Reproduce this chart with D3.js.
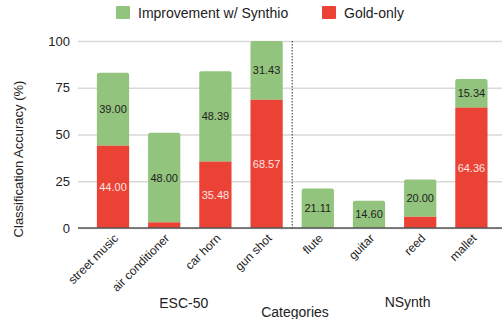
<!DOCTYPE html>
<html>
<head>
<meta charset="utf-8">
<style>
  body { margin: 0; background: #fff; }
  svg { font-family: Arial, "Liberation Sans", sans-serif; }
  .y .domain { display: none; }
  .y .tick line { stroke: #d9d9d9; stroke-width: 1.5px; }
  .y .tick text { font-size: 13px; fill: #222; }
  .x .domain, .x .tick line { display: none; }
  .x .tick text { font-size: 12px; fill: #222; }
</style>
</head>
<body>
<svg width="502" height="319"></svg>
<script src="https://d3js.org/d3.v7.min.js"></script>
<script>
  let categories = ["street music", "air conditioner", "car horn", "gun shot", "flute", "guitar", "reed", "mallet"];
  let goldOnly = [44.00, 3, 35.48, 68.57, 0, 0, 6, 64.36];
  let improvement = [39.00, 48.00, 48.39, 31.43, 21.11, 14.60, 20.00, 15.34];
  let goldLabels = ["44.00", "", "35.48", "68.57", "", "", "", "64.36"];
  let impLabels = ["39.00", "48.00", "48.39", "31.43", "21.11", "14.60", "20.00", "15.34"];
  let yTicks = [0, 25, 50, 75, 100];

  let green = "#93c47d", red = "#ea4335";
  let svg = d3.select("svg");

  let x = d3.scaleBand()
    .domain(categories)
    .range([87.4, 497])
    .paddingInner(0.37)
    .paddingOuter(0.185);

  let y = d3.scaleLinear()
    .domain([0, 100])
    .range([228, 41]);

  svg.append("g")
    .attr("class", "y axis")
    .attr("transform", "translate(78,0)")
    .call(d3.axisRight(y).tickValues(yTicks).tickSize(430).tickPadding(-438))
    .selectAll(".tick text").attr("text-anchor", "end");

  let rows = categories.map((c, i) => ({ c: c, g: goldOnly[i], imp: improvement[i], gl: goldLabels[i], il: impLabels[i] }));

  // rounded-top helper
  function topRounded(x0, y0, w, h, r) {
    r = Math.min(r, h);
    return `M${x0},${y0 + h} V${y0 + r} Q${x0},${y0} ${x0 + r},${y0} H${x0 + w - r} Q${x0 + w},${y0} ${x0 + w},${y0 + r} V${y0 + h} Z`;
  }

  let bars = svg.append("g");
  bars.selectAll(".imp").data(rows).join("path")
    .attr("fill", green)
    .attr("d", d => topRounded(x(d.c), y(d.g + d.imp), x.bandwidth(), y(d.g) - y(d.g + d.imp), 2));
  bars.selectAll(".gold").data(rows.filter(d => d.g > 0)).join("rect")
    .attr("fill", red)
    .attr("x", d => x(d.c))
    .attr("width", x.bandwidth())
    .attr("y", d => y(d.g))
    .attr("height", d => y(0) - y(d.g));

  let labels = svg.append("g").attr("font-size", "11px").attr("text-anchor", "middle");
  labels.selectAll(".il").data(rows).join("text")
    .attr("x", d => x(d.c) + x.bandwidth() / 2)
    .attr("y", d => y(d.g + d.imp / 2) + 4)
    .attr("fill", "#222")
    .text(d => d.il);
  labels.selectAll(".gl").data(rows.filter(d => d.gl)).join("text")
    .attr("x", d => x(d.c) + x.bandwidth() / 2)
    .attr("y", d => y(d.g / 2) + 4)
    .attr("fill", "#fde4e1")
    .text(d => d.gl);

  // baseline
  svg.append("line")
    .attr("x1", 78).attr("x2", 502)
    .attr("y1", y(0)).attr("y2", y(0))
    .attr("stroke", "#555").attr("stroke-width", 1.5);

  // divider between datasets
  let divX = (x("gun shot") + x.bandwidth() + x("flute")) / 2;
  svg.append("line")
    .attr("x1", divX).attr("x2", divX)
    .attr("y1", y(100)).attr("y2", y(0))
    .attr("stroke", "#333").attr("stroke-width", 1)
    .attr("stroke-dasharray", "1.5,1.5");

  // x axis rotated labels
  svg.append("g")
    .attr("class", "x axis")
    .attr("transform", `translate(0,${y(0)})`)
    .call(d3.axisBottom(x).tickSize(0).tickPadding(0))
    .selectAll(".tick text")
    .attr("text-anchor", "end")
    .attr("dy", 0)
    .attr("transform", "translate(6,11) rotate(-45)");

  svg.append("text").attr("x", (x("air conditioner") + x("car horn") + x.bandwidth()) / 2 - 6).attr("y", 308)
    .attr("text-anchor", "middle").attr("font-size", "14px").attr("fill", "#222").text("ESC-50");
  svg.append("text").attr("x", (x("guitar") + x("reed") + x.bandwidth()) / 2 + 13).attr("y", 307)
    .attr("text-anchor", "middle").attr("font-size", "14px").attr("fill", "#222").text("NSynth");
  svg.append("text").attr("x", 295).attr("y", 317)
    .attr("text-anchor", "middle").attr("font-size", "14px").attr("fill", "#222").text("Categories");

  svg.append("text")
    .attr("transform", "translate(23,159) rotate(-90)")
    .attr("text-anchor", "middle").attr("font-size", "13px").attr("fill", "#222")
    .text("Classification Accuracy (%)");

  // legend
  let legend = [{ t: "Improvement w/ Synthio", c: green, x: 116 }, { t: "Gold-only", c: red, x: 322 }];
  let lg = svg.append("g").selectAll("g").data(legend).join("g")
    .attr("transform", d => `translate(${d.x},6)`);
  lg.append("rect").attr("width", 14).attr("height", 13).attr("rx", 1).attr("fill", d => d.c);
  lg.append("text").attr("x", 22).attr("y", 12).attr("font-size", "14px").attr("fill", "#222").text(d => d.t);
</script>
</body>
</html>
